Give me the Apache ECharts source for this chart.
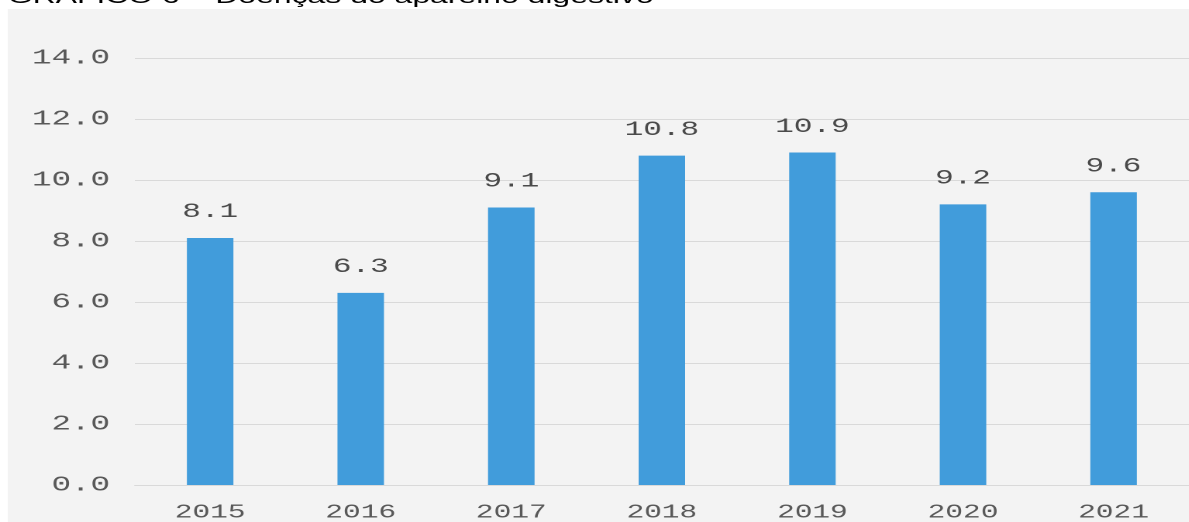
<!DOCTYPE html>
<html>
<head>
<meta charset="utf-8">
<script src="https://cdn.jsdelivr.net/npm/echarts@6/dist/echarts.min.js"></script>
<style>
    html, body { margin: 0; padding: 0; background: #ffffff; overflow: hidden; }
    /* the source picture is stretched sideways, so the chart is drawn narrow and widened */
    #chart {
        position: absolute;
        left: 0;
        top: 0;
        width: 767px;
        height: 522px;
        transform: scaleX(1.55);
        transform-origin: 0 0;
    }
</style>
</head>
<body>
<div id="chart"></div>
<script>
    var titleText = 'GRÁFICO 6 – Doenças do aparelho digestivo';
    var years = ['2015', '2016', '2017', '2018', '2019', '2020', '2021'];
    var values = [8.1, 6.3, 9.1, 10.8, 10.9, 9.2, 9.6];
    var yMin = 0;
    var yMax = 14;
    var yStep = 2;

    var mono = '"Liberation Mono", "DejaVu Sans Mono", monospace';

    var option = {
        animation: false,
        backgroundColor: '#ffffff',
        title: {
            text: titleText,
            left: 0,
            top: -18,
            textStyle: {
                fontFamily: '"Liberation Sans", Arial, sans-serif',
                fontWeight: 'normal',
                fontSize: 20.6,
                color: '#000000'
            }
        },
        graphic: [{
            type: 'rect',
            z: -10,
            shape: { x: 5, y: 9, width: 770, height: 520 },
            style: { fill: '#f3f3f3' }
        }],
        grid: {
            left: 87,
            top: 58,
            width: 682,
            height: 427
        },
        xAxis: {
            type: 'category',
            data: years,
            axisLine: { show: true, lineStyle: { color: '#d9d9d9', width: 1 } },
            axisTick: { show: false },
            axisLabel: {
                color: '#595959',
                fontFamily: mono,
                fontSize: 19,
                margin: 18
            }
        },
        yAxis: {
            type: 'value',
            min: yMin,
            max: yMax,
            interval: yStep,
            axisLine: { show: false },
            axisTick: { show: false },
            splitLine: { lineStyle: { color: '#d9d9d9', width: 1 } },
            axisLabel: {
                color: '#595959',
                fontFamily: mono,
                fontSize: 21,
                margin: 16,
                formatter: function (v) { return v.toFixed(1); }
            }
        },
        series: [{
            type: 'bar',
            data: values,
            barWidth: 30,
            itemStyle: { color: '#419cdb' },
            label: {
                show: true,
                position: 'top',
                distance: 16,
                color: '#4a4a4a',
                fontFamily: mono,
                fontSize: 20,
                formatter: function (p) { return p.value.toFixed(1); }
            }
        }]
    };

    var mychart = echarts.init(document.getElementById('chart'), null, { renderer: 'canvas', devicePixelRatio: 2 });
    mychart.setOption(option);
</script>
</body>
</html>
